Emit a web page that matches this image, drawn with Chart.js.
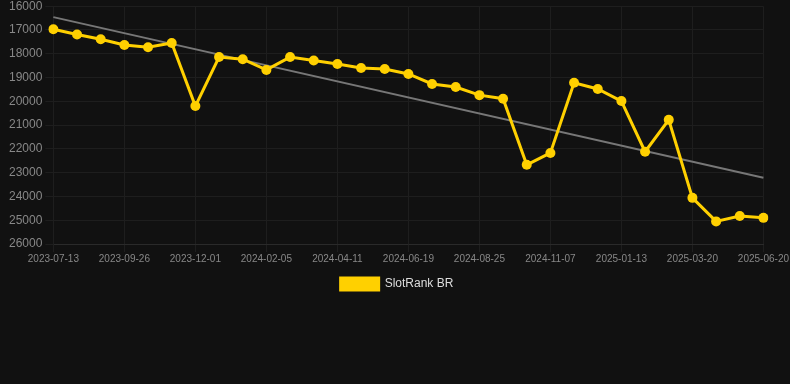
<!DOCTYPE html>
<html>
<head>
<meta charset="utf-8">
<script src="https://cdn.jsdelivr.net/npm/chart.js@4"></script>
<style>
  html, body { margin: 0; padding: 0; background: #111111; overflow: hidden; }
  #wrap { width: 790px; height: 304px; margin-top: -4px; }
</style>
</head>
<body>
<div id="wrap"><canvas id="rankChart"></canvas></div>
<script>
const dates = [
  '2023-07-13', '2023-08-07', '2023-09-01', '2023-09-26', '2023-10-18', '2023-11-09',
  '2023-12-01', '2023-12-23', '2024-01-14', '2024-02-05', '2024-02-27', '2024-03-20',
  '2024-04-11', '2024-05-04', '2024-05-27', '2024-06-19', '2024-07-11', '2024-08-02',
  '2024-08-25', '2024-09-18', '2024-10-13', '2024-11-07', '2024-11-29', '2024-12-21',
  '2025-01-13', '2025-02-03', '2025-02-25', '2025-03-20', '2025-04-20', '2025-05-20',
  '2025-06-20'
];
const rankBR = [
  16970, 17190, 17390, 17630, 17730, 17550,
  20200, 18140, 18230, 18680, 18140, 18280,
  18430, 18600, 18640, 18850, 19270, 19400,
  19740, 19890, 22670, 22170, 19220, 19480,
  19990, 22120, 20780, 24060, 25050, 24820,
  24900
];
// trend line end points
const trendStart = 16460;
const trendEnd = 23210;
const yTicks = [16000, 17000, 18000, 19000, 20000, 21000, 22000, 23000, 24000, 25000, 26000];

const trend = dates.map((d, i) => i === 0 ? trendStart : (i === dates.length - 1 ? trendEnd : null));

const ctx = document.getElementById('rankChart').getContext('2d');
new Chart(ctx, {
  type: 'line',
  data: {
    labels: dates,
    datasets: [{
      label: 'SlotRank BR',
      data: rankBR,
      borderColor: '#FFD000',
      backgroundColor: '#FFD000',
      borderWidth: 3,
      pointRadius: 5,
      pointBackgroundColor: '#FFD000',
      pointBorderWidth: 0,
      tension: 0
    }, {
      label: 'trend',
      data: trend,
      borderColor: '#777777',
      borderWidth: 2,
      pointRadius: 0,
      spanGaps: true
    }]
  },
  options: {
    responsive: true,
    maintainAspectRatio: false,
    animation: false,
    layout: { padding: { left: 6, right: 2, top: 0, bottom: 0 } },
    plugins: {
      legend: {
        position: 'bottom',
        labels: {
          color: '#dddddd',
          padding: 12,
          font: { family: 'Liberation Sans, Arial', size: 12 },
          boxWidth: 38,
          boxHeight: 12,
          filter: item => item.text !== 'trend'
        }
      },
      tooltip: { enabled: false }
    },
    scales: {
      x: {
        offset: false,
        grid: { color: '#1e1e1e' },
        border: { color: '#2a2a2a' },
        ticks: {
          color: '#888888',
          padding: 1,
          font: { family: 'Liberation Sans, Arial', size: 10 },
          maxRotation: 0,
          autoSkip: true,
          autoSkipPadding: 20
        }
      },
      y: {
        reverse: true,
        min: 16000,
        max: 26000,
        afterBuildTicks: axis => { axis.ticks = yTicks.map(v => ({ value: v })); },
        grid: { color: '#1e1e1e' },
        border: { color: '#1e1e1e' },
        ticks: {
          color: '#888888',
          font: { family: 'Liberation Sans, Arial', size: 12 },
          callback: v => String(v)
        }
      }
    }
  }
});
</script>
</body>
</html>
